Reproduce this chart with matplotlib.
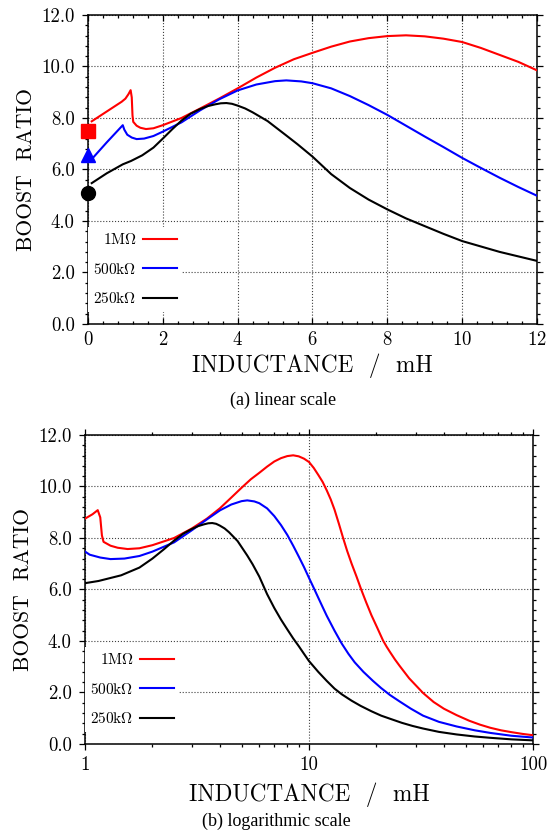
import numpy as np
import matplotlib
matplotlib.use('Agg')
import matplotlib.pyplot as plt
from matplotlib.ticker import MultipleLocator, FormatStrFormatter, FixedLocator, NullFormatter

plt.rcParams['font.family'] = 'cmr10'
plt.rcParams['mathtext.fontset'] = 'cm'
plt.rcParams['axes.formatter.use_mathtext'] = True

# boost ratio vs inductance (mH)
L_1M = [0.1, 0.5, 0.9, 1.0, 1.08, 1.14, 1.17, 1.19, 1.21, 1.3, 1.4, 1.55, 1.75, 2.0,
        2.5, 3.0, 3.5, 4.0, 4.5, 5.0, 5.5, 6.0, 6.5, 7.0, 7.5, 8.0, 8.5, 9.0, 9.5,
        10.0, 10.5, 11.0, 11.5, 12.0, 12.5, 13.0, 13.6, 14.2, 14.8, 15.5, 16.3, 17.1,
        18.0, 19.0, 20.2, 21.4, 22.2, 23.0, 24.2, 25.4, 28.0, 32.3, 36.0, 40.0, 45.6,
        52.0, 58.0, 64.4, 72.0, 80.0, 90.0, 100.0]
B_1M = [7.87, 8.25, 8.63, 8.75, 8.92, 9.08, 8.8, 8.1, 7.85, 7.7, 7.62, 7.57, 7.6, 7.72,
        8.0, 8.37, 8.75, 9.15, 9.57, 9.95, 10.28, 10.53, 10.77, 10.97, 11.1, 11.18,
        11.21, 11.17, 11.08, 10.95, 10.72, 10.45, 10.18, 9.85, 9.5, 9.1, 8.55, 8.0, 7.5,
        7.0, 6.5, 6.0, 5.5, 5.0, 4.5, 4.02, 3.78, 3.57, 3.28, 3.03, 2.55, 1.98, 1.63,
        1.37, 1.12, 0.9, 0.75, 0.63, 0.53, 0.46, 0.39, 0.34]

L_500k = [0.1, 0.5, 0.93, 0.97, 1.05, 1.17, 1.3, 1.5, 1.75, 2.0, 2.5, 3.0, 3.5, 4.0,
          4.5, 5.0, 5.3, 5.7, 6.0, 6.5, 7.0, 7.5, 8.0, 8.5, 9.0, 9.5, 10.0, 10.5, 11.0,
          11.5, 12.0, 13.0, 14.0, 15.0, 16.0, 17.5, 19.3, 21.0, 23.0, 25.4, 28.5, 32.3,
          38.0, 45.6, 55.0, 64.4, 80.0, 100.0]
B_500k = [6.4, 7.05, 7.72, 7.55, 7.35, 7.24, 7.18, 7.2, 7.3, 7.47, 7.83, 8.3, 8.72, 9.07,
          9.3, 9.43, 9.46, 9.42, 9.35, 9.15, 8.85, 8.5, 8.12, 7.7, 7.28, 6.87, 6.45,
          6.06, 5.68, 5.32, 4.98, 4.4, 3.9, 3.5, 3.17, 2.8, 2.45, 2.17, 1.9, 1.65, 1.37,
          1.1, 0.86, 0.68, 0.53, 0.43, 0.32, 0.25]

L_250k = [0.1, 0.5, 0.93, 1.15, 1.45, 1.75, 2.0, 2.25, 2.5, 2.75, 3.0, 3.2, 3.4, 3.55,
          3.7, 3.85, 4.0, 4.2, 4.4, 4.8, 5.3, 5.6, 6.0, 6.5, 7.0, 7.5, 8.0, 8.5, 9.0,
          9.5, 10.0, 11.0, 12.0, 13.0, 14.0, 15.5, 17.0, 19.0, 21.0, 23.0, 26.0, 29.0,
          32.3, 38.0, 45.6, 55.0, 64.4, 80.0, 100.0]
B_250k = [5.47, 5.85, 6.2, 6.33, 6.55, 6.85, 7.2, 7.56, 7.9, 8.17, 8.35, 8.46, 8.53,
          8.57, 8.58, 8.55, 8.48, 8.37, 8.22, 7.88, 7.32, 6.98, 6.5, 5.82, 5.28, 4.83,
          4.45, 4.1, 3.8, 3.5, 3.22, 2.8, 2.45, 2.15, 1.93, 1.68, 1.48, 1.27, 1.1, 0.98,
          0.82, 0.7, 0.6, 0.47, 0.37, 0.29, 0.24, 0.18, 0.14]

series_L = [L_1M, L_500k, L_250k]
series_B = [B_1M, B_500k, B_250k]
labels = [r'$\mathrm{1M\Omega}$', r'$\mathrm{500k\Omega}$', r'$\mathrm{250k\Omega}$']
colors = ['#ff0000', '#0000ff', '#000000']

# value with no inductor (L = 0)
B_zero = [7.5, 6.55, 5.1]
zero_markers = ['s', '^', 'o']


def style_axis(ax):
    ax.set_ylim(0, 12)
    ax.yaxis.set_major_locator(MultipleLocator(2))
    ax.yaxis.set_minor_locator(MultipleLocator(0.4))
    ax.yaxis.set_major_formatter(FormatStrFormatter('%.1f'))
    ax.tick_params(axis='y', which='both', direction='out', left=True, right=True,
                   labelsize=13.5, pad=5)
    ax.tick_params(which='major', length=4.5, width=0.9)
    ax.tick_params(which='minor', length=2.2, width=0.9)
    ax.grid(True, which='major', linestyle=':', color='0.25', linewidth=0.8)
    ax.set_axisbelow(True)
    for s in ax.spines.values():
        s.set_linewidth(1.1)
    ax.set_ylabel('BOOST  RATIO', fontsize=15.5, labelpad=4)


def add_legend(ax, lines):
    leg = ax.legend(lines, labels, loc='lower left', bbox_to_anchor=(0.0, 0.04),
                    borderaxespad=0, fontsize=11, markerfirst=False, frameon=True,
                    fancybox=False, edgecolor='none', framealpha=1, handlelength=2.2,
                    handletextpad=0.45, labelspacing=0.95, borderpad=0.35)
    leg.set_zorder(3)


fig = plt.figure(figsize=(5.54, 8.32), dpi=100)

# (a) linear
ax1 = fig.add_axes([0.1588, 0.6106, 0.8105, 0.3714])
lines = []
for L, B, c in zip(series_L, series_B, colors):
    ln, = ax1.plot(L, B, color=c, lw=1.5, zorder=4)
    lines.append(ln)
for b, m, c in zip(B_zero, zero_markers, colors):
    ax1.plot([0], [b], marker=m, color=c, markersize=10, clip_on=False, zorder=5,
             linestyle='none')
ax1.set_xlim(0, 12)
ax1.xaxis.set_major_locator(MultipleLocator(2))
ax1.xaxis.set_minor_locator(MultipleLocator(0.4))
style_axis(ax1)
ax1.tick_params(axis='x', which='both', direction='in', top=True, bottom=True,
                labelsize=13.5, pad=5)
ax1.set_xlabel('INDUCTANCE  /  mH', fontsize=16.7, labelpad=3)
add_legend(ax1, lines)

# (b) logarithmic
ax2 = fig.add_axes([0.1534, 0.1058, 0.8087, 0.3714])
lines = []
for L, B, c in zip(series_L, series_B, colors):
    ln, = ax2.plot(L, B, color=c, lw=1.5, zorder=4)
    lines.append(ln)
ax2.set_xscale('log')
ax2.set_xlim(1, 100)
ax2.xaxis.set_major_locator(FixedLocator([1, 10, 100]))
ax2.set_xticklabels(['1', '10', '100'])
minor = [k * d for d in (1, 10) for k in range(2, 10)]
ax2.xaxis.set_minor_locator(FixedLocator(minor))
ax2.xaxis.set_minor_formatter(NullFormatter())
style_axis(ax2)
ax2.tick_params(axis='x', which='both', direction='out', top=True, bottom=True,
                labelsize=13.5, pad=4)
ax2.set_xlabel('INDUCTANCE  /  mH', fontsize=16.7, labelpad=6)
add_legend(ax2, lines)

fig.text(0.511, 1 - 400 / 832, '(a) linear scale', ha='center', va='center',
         family='Liberation Serif', fontsize=13)
fig.text(0.499, 1 - 821 / 832, '(b) logarithmic scale', ha='center', va='center',
         family='Liberation Serif', fontsize=13)

fig.savefig('out.png', dpi=100)
